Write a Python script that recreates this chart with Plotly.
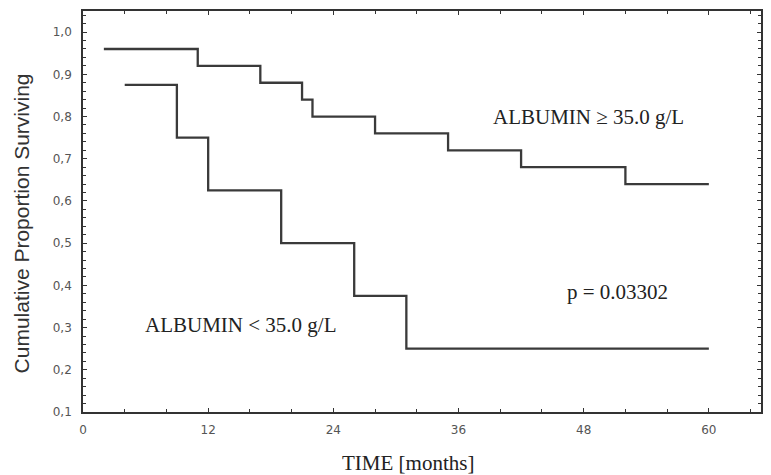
import plotly.graph_objects as go

# Kaplan-Meier step data (time in months, cumulative proportion surviving)
high_alb_time = [2, 11, 17, 21, 22, 28, 35, 42, 52, 60]
high_alb_surv = [0.96, 0.92, 0.88, 0.84, 0.80, 0.76, 0.72, 0.68, 0.64, 0.64]

low_alb_time = [4, 9, 12, 19, 26, 31, 60]
low_alb_surv = [0.875, 0.75, 0.625, 0.5, 0.375, 0.25, 0.25]

x_tick_vals = [0, 12, 24, 36, 48, 60]
x_tick_text = ["0", "12", "24", "36", "48", "60"]
y_tick_vals = [0.1, 0.2, 0.3, 0.4, 0.5, 0.6, 0.7, 0.8, 0.9, 1.0]
y_tick_text = ["0,1", "0,2", "0,3", "0,4", "0,5", "0,6", "0,7", "0,8", "0,9", "1,0"]

line_color = "#3a3a3a"
serif = "Liberation Serif, Times New Roman, serif"
sans = "Liberation Sans, Arial, sans-serif"
tick_font = "DejaVu Sans, sans-serif"

fig = go.Figure()
fig.add_trace(go.Scatter(x=high_alb_time, y=high_alb_surv, mode="lines",
                         line=dict(shape="hv", color=line_color, width=2.3),
                         showlegend=False, hoverinfo="skip"))
fig.add_trace(go.Scatter(x=low_alb_time, y=low_alb_surv, mode="lines",
                         line=dict(shape="hv", color=line_color, width=2.3),
                         showlegend=False, hoverinfo="skip"))

axis_common = dict(showline=True, linecolor="#333", linewidth=1.6, mirror="allticks",
                   ticks="inside", ticklen=4, tickcolor="#333", tickwidth=1.2,
                   showgrid=False, zeroline=False,
                   tickfont=dict(family=tick_font, size=12, color="#555"))

fig.update_xaxes(range=[0, 65], tickvals=x_tick_vals, ticktext=x_tick_text,
                 minor=dict(dtick=4, tick0=0, ticks="inside", ticklen=3, tickcolor="#333"),
                 ticklabelstandoff=6, **axis_common)
fig.update_yaxes(range=[0.1, 1.05], tickvals=y_tick_vals, ticktext=y_tick_text,
                 minor=dict(dtick=0.02, tick0=0.1, ticks="inside", ticklen=3, tickcolor="#333"),
                 ticklabelstandoff=7, **axis_common)

annotations = [
    dict(x=48.5, y=0.80, xref="x", yref="y", text="ALBUMIN ≥ 35.0 g/L", showarrow=False,
         font=dict(family=serif, size=21, color="#222")),
    dict(x=51.2, y=0.384, xref="x", yref="y", text="p = 0.03302", showarrow=False,
         font=dict(family=serif, size=21, color="#222")),
    dict(x=15.1, y=0.306, xref="x", yref="y", text="ALBUMIN < 35.0 g/L", showarrow=False,
         font=dict(family=serif, size=21, color="#222")),
    dict(x=0.479, y=-0.127, xref="paper", yref="paper", text="TIME [months]", showarrow=False,
         yanchor="middle", font=dict(family=serif, size=21, color="#222")),
    dict(x=-0.091, y=0.471, xref="paper", yref="paper", text="Cumulative Proportion Surviving",
         showarrow=False, textangle=-90, xanchor="center", yanchor="middle",
         font=dict(family=sans, size=21, color="#333")),
]

fig.update_layout(width=771, height=475, margin=dict(l=83, r=8, t=11, b=63),
                  paper_bgcolor="white", plot_bgcolor="white", annotations=annotations)

fig.write_html("out.html")
